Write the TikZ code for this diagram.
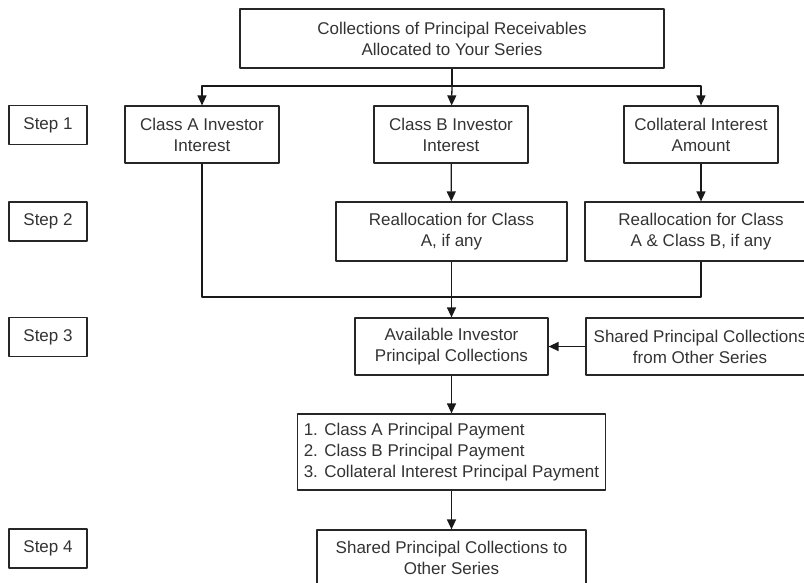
\documentclass[tikz,border=0pt]{standalone}
\usepackage{fontspec}
\setmainfont{Liberation Sans}
\usetikzlibrary{arrows.meta}

\begin{document}
\begin{tikzpicture}[x=1pt, y=-1pt, >={Triangle[length=10pt,width=9pt]}, line join=round,
  box/.style={draw=black!85, line width=1.2pt, align=center, inner sep=0pt,
    font=\fontsize{17}{21}\selectfont, text=black!80},
  stepbox/.style={box, minimum width=78pt, minimum height=39pt},
  flow/.style={line width=1.3pt, draw=black!90}]

  % Fix the page to the size of the reference
  \useasboundingbox (0,0) rectangle (804,582);

  % Draw the step labels on the left
  \node[stepbox] (step1) at (48,125) {Step 1};
  \node[stepbox] (step2) at (48,221.5) {Step 2};
  \node[stepbox] (step3) at (48,337) {Step 3};
  \node[stepbox] (step4) at (48,548.5) {Step 4};

  % Draw the source of the collections
  \node[box, minimum width=424pt, minimum height=59pt] (top) at (452,38.5)
    {Collections of Principal Receivables\\Allocated to Your Series};

  % Draw the three interests of step 1
  \node[box, minimum width=154pt, minimum height=57pt] (classA) at (202,134.5)
    {Class A Investor\\Interest};
  \node[box, minimum width=154pt, minimum height=57pt] (classB) at (451,134.5)
    {Class B Investor\\Interest};
  \node[box, minimum width=154pt, minimum height=57pt] (collat) at (701,134.5)
    {Collateral Interest\\Amount};

  % Draw the reallocations of step 2
  \node[box, minimum width=231pt, minimum height=59pt] (reallocA) at (451.5,231.5)
    {Reallocation for Class\\A, if any};
  \node[box, minimum width=232pt, minimum height=59pt] (reallocAB) at (701,231.5)
    {Reallocation for Class\\A \& Class B, if any};

  % Draw the collections of step 3
  \node[box, minimum width=193pt, minimum height=57pt] (avail) at (451.5,346.5)
    {Available Investor\\Principal Collections};
  \node[box, minimum width=228pt, minimum height=57pt] (sharedFrom) at (700,346.5)
    {Shared Principal Collections\\from Other Series};
  \node[box, align=left, inner xsep=6pt, minimum width=307pt, minimum height=76pt] (payment) at (451.5,452)
    {1. Class A Principal Payment\\2. Class B Principal Payment\\3. Collateral Interest Principal Payment};

  % Draw the collections of step 4
  \node[box, minimum width=269pt, minimum height=56pt] (sharedTo) at (451.5,558)
    {Shared Principal Collections to\\Other Series};

  % Define the points where the connectors split and merge
  \coordinate (split) at (452,86);
  \coordinate (merge) at (452,297);

  % Draw the connectors
  \draw[flow] (top) -- (split);
  \draw[flow,->] (split) -| (classA);
  \draw[flow,->] (split) -- (classB);
  \draw[flow,->] (split) -| (collat);
  \draw[flow,->] (classB) -- (reallocA);
  \draw[flow,->] (collat) -- (reallocAB);
  \draw[flow] (classA) |- (merge) -| (reallocAB);
  \draw[flow,->] (reallocA) -- (avail);
  \draw[flow,->] (sharedFrom) -- (avail);
  \draw[flow,->] (avail) -- (payment);
  \draw[flow,->] (payment) -- (sharedTo);

\end{tikzpicture}
\end{document}
